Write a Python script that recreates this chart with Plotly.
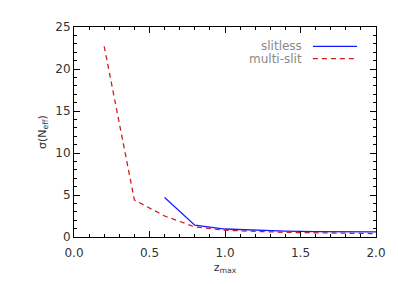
import plotly.graph_objects as go

z_multi = [0.2, 0.4, 0.6, 0.8, 1.0, 1.2, 1.4, 1.6, 1.8, 2.0]
sig_multi = [22.7, 4.4, 2.5, 1.2, 0.8, 0.65, 0.55, 0.5, 0.45, 0.4]
z_slitless = [0.6, 0.8, 1.0, 1.2, 1.4, 1.6, 1.8, 2.0]
sig_slitless = [4.7, 1.4, 0.95, 0.8, 0.7, 0.65, 0.6, 0.6]
x_ticks = [0.0, 0.5, 1.0, 1.5, 2.0]
x_labels = ["0.0", "0.5", "1.0", "1.5", "2.0"]
y_ticks = [0, 5, 10, 15, 20, 25]
y_labels = ["0", "5", "10", "15", "20", "25"]

BLUE = "#1a1aff"
RED = "#cc2020"
FONT = "DejaVu Sans, sans-serif"

fig = go.Figure()
fig.add_trace(go.Scatter(x=z_multi, y=sig_multi, mode="lines", name="multi-slit",
                         line=dict(color=RED, width=1.3, dash="5px,4px")))
fig.add_trace(go.Scatter(x=z_slitless, y=sig_slitless, mode="lines", name="slitless",
                         line=dict(color=BLUE, width=1.3)))

axis_common = dict(showgrid=False, zeroline=False, showline=True, linecolor="black",
                   linewidth=1, mirror="allticks", ticks="inside", ticklen=6,
                   tickcolor="black", tickfont=dict(family=FONT, size=12, color="#333333"))
fig.update_xaxes(range=[0, 2], tickvals=x_ticks, ticktext=x_labels, ticklabelstandoff=5,
                 minor=dict(dtick=0.1, ticks="inside", ticklen=3, tickcolor="black"),
                 title=dict(text="z<sub>max</sub>", font=dict(family=FONT, size=11, color="#333333"), standoff=3),
                 **axis_common)
fig.update_yaxes(range=[0, 25], tickvals=y_ticks, ticktext=y_labels,
                 minor=dict(dtick=1, ticks="inside", ticklen=3, tickcolor="black"),
                 title=dict(text="σ(N<sub>eff</sub>)", font=dict(family=FONT, size=11, color="#333333"), standoff=6),
                 **axis_common)

# legend (text left of line sample)
leg = [("slitless", BLUE, "solid", 0.908), ("multi-slit", RED, "dash", 0.849)]
for name, col, dash, yy in leg:
    fig.add_annotation(xref="paper", yref="paper", x=0.762, y=yy, text=name,
                       showarrow=False, xanchor="right", yanchor="middle",
                       font=dict(family=FONT, size=12, color="#8a8a8a"))
    fig.add_shape(type="line", xref="paper", yref="paper", x0=0.791, x1=0.937, y0=yy, y1=yy,
                  line=dict(color=col, width=1.3, dash="5px,4px" if dash == "dash" else "solid"))

fig.update_layout(width=390, height=276, showlegend=False,
                  margin=dict(l=66, r=22, t=15, b=47),
                  plot_bgcolor="white", paper_bgcolor="white")
fig.write_html("out.html")
